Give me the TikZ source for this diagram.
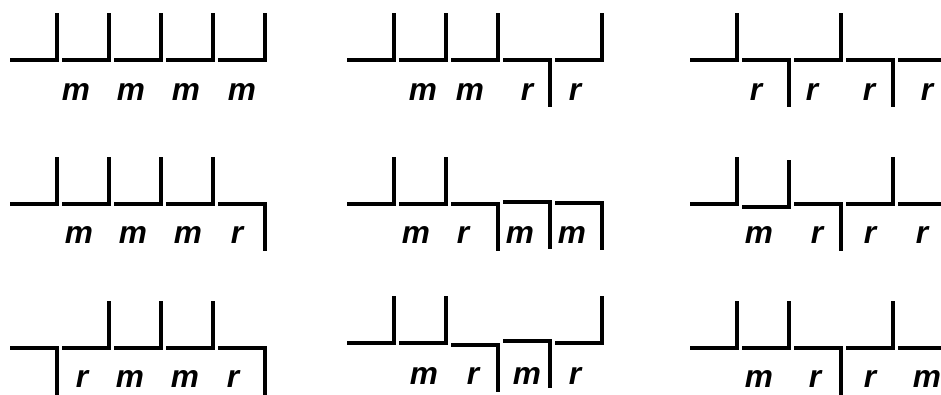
\documentclass[tikz,border=0pt]{standalone}
\usepackage{fontspec}
\setmainfont{Liberation Sans}
\usetikzlibrary{positioning}

\begin{document}
\begin{tikzpicture}[line width=1.2pt,
  lab/.style={font=\bfseries\itshape\fontsize{9}{10}\selectfont, inner sep=0pt}]
  \useasboundingbox (0,0) rectangle (9.41,3.94);
  % first row: 1 = tick up, -1 = tick down, 0 = no tick
  \foreach \d [count=\i from 0] in {1,1,1,1,1}
    \draw (0.10+0.52*\i,3.34) -- ++(0.47,0) -- ++(0,0.47*\d);
  \foreach \d [count=\i from 0] in {1,1,1,-1,1}
    \draw (3.47+0.52*\i,3.34) -- ++(0.47,0) -- ++(0,0.47*\d);
  \foreach \d [count=\i from 0] in {1,-1,1,-1,0}
    \draw (6.90+0.52*\i,3.34) -- ++(0.47,0) -- ++(0,0.47*\d);
  \node[lab] (am1) at (0.76,3.02) {m};
  \node[lab] (am2) at (1.31,3.02) {m};
  \node[lab] (am3) at (1.86,3.02) {m};
  \node[lab] (am4) at (2.42,3.02) {m};
  \node[lab] (bm1) at (4.23,3.02) {m};
  \node[lab] (bm2) at (4.70,3.02) {m};
  \node[lab] (br3) at (5.27,3.02) {r};
  \node[lab] (br4) at (5.75,3.02) {r};
  \node[lab] (cr1) at (7.56,3.02) {r};
  \node[lab] (cr2) at (8.12,3.02) {r};
  \node[lab] (cr3) at (8.69,3.02) {r};
  \node[lab] (cr4) at (9.27,3.02) {r};
  % second row
  \foreach \d [count=\i from 0] in {1,1,1,1,-1}
    \draw (0.10+0.52*\i,1.90) -- ++(0.47,0) -- ++(0,0.47*\d);
  \foreach \d/\h [count=\i from 0] in {1/0,1/0,-1/0,-1/0.02,-1/0.01}
    \draw (3.47+0.52*\i,1.90+\h) -- ++(0.47,0) -- ++(0,0.47*\d);
  \foreach \d/\h [count=\i from 0] in {1/0,1/-0.03,-1/0,1/0,0/0}
    \draw (6.90+0.52*\i,1.90+\h) -- ++(0.47,0) -- ++(0,0.47*\d);
  \node[lab] (dm1) at (0.79,1.59) {m};
  \node[lab] (dm2) at (1.33,1.59) {m};
  \node[lab] (dm3) at (1.88,1.59) {m};
  \node[lab] (dr4) at (2.37,1.59) {r};
  \node[lab] (em1) at (4.16,1.59) {m};
  \node[lab] (er2) at (4.63,1.59) {r};
  \node[lab] (em3) at (5.20,1.59) {m};
  \node[lab] (em4) at (5.72,1.59) {m};
  \node[lab] (fm1) at (7.59,1.59) {m};
  \node[lab] (fr2) at (8.17,1.59) {r};
  \node[lab] (fr3) at (8.70,1.59) {r};
  \node[lab] (fr4) at (9.22,1.59) {r};
  % third row
  \foreach \d [count=\i from 0] in {-1,1,1,1,-1}
    \draw (0.10+0.52*\i,0.46) -- ++(0.47,0) -- ++(0,0.47*\d);
  \foreach \d/\h [count=\i from 0] in {1/0,1/0,-1/-0.02,-1/0.02,1/0}
    \draw (3.47+0.52*\i,0.51+\h) -- ++(0.47,0) -- ++(0,0.47*\d);
  \foreach \d [count=\i from 0] in {1,1,-1,1,0}
    \draw (6.90+0.52*\i,0.46) -- ++(0.47,0) -- ++(0,0.47*\d);
  \node[lab] (gr1) at (0.82,0.15) {r};
  \node[lab] (gm2) at (1.30,0.15) {m};
  \node[lab] (gm3) at (1.85,0.15) {m};
  \node[lab] (gr4) at (2.33,0.15) {r};
  \node[lab] (hm1) at (4.24,0.18) {m};
  \node[lab] (hr2) at (4.73,0.18) {r};
  \node[lab] (hm3) at (5.27,0.18) {m};
  \node[lab] (hr4) at (5.75,0.18) {r};
  \node[lab] (im1) at (7.59,0.15) {m};
  \node[lab] (ir2) at (8.15,0.15) {r};
  \node[lab] (ir3) at (8.70,0.15) {r};
  \node[lab] (im4) at (9.27,0.15) {m};
\end{tikzpicture}
\end{document}
